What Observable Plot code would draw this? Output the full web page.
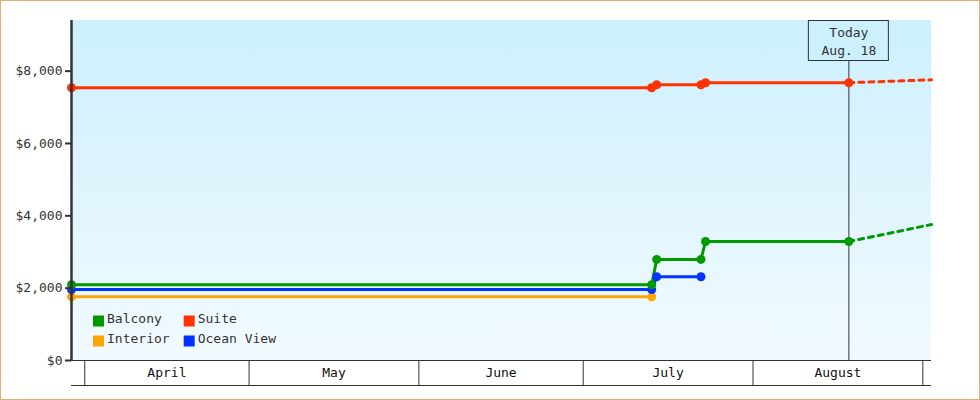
<!DOCTYPE html>
<html>
<head>
<meta charset="utf-8">
<script src="https://cdn.jsdelivr.net/npm/d3@7"></script>
<script src="https://cdn.jsdelivr.net/npm/@observablehq/plot@0.6"></script>
<style>
  html, body { margin: 0; padding: 0; background: #fff; }
  #chart svg { display: block; outline: 1px solid #e9ab6a; outline-offset: -1px; }
</style>
</head>
<body>
<div id="chart"></div>
<script>
// ---- data ----
const xStart = "2013-03-29T14:00:00Z";
const xEnd = "2013-09-02T14:00:00Z";
const today = "2013-08-18T12:00:00Z";
const todayLabel = "Today\nAug. 18";

const seriesNames = ["Balcony", "Suite", "Interior", "Ocean View"];
const seriesColors = ["#009900", "#ff3300", "#ffa500", "#0033ff"];

const suiteDates = [xStart, "2013-07-13T12:00:00Z", "2013-07-14T10:00:00Z", "2013-07-22T12:00:00Z", "2013-07-23T08:00:00Z", today];
const suitePrices = [7540, 7540, 7625, 7625, 7680, 7680];

const balconyDates = [xStart, "2013-07-13T12:00:00Z", "2013-07-14T10:00:00Z", "2013-07-22T12:00:00Z", "2013-07-23T08:00:00Z", today];
const balconyPrices = [2095, 2095, 2795, 2795, 3290, 3290];

const oceanViewDates = [xStart, "2013-07-13T12:00:00Z", "2013-07-14T10:00:00Z", "2013-07-22T12:00:00Z"];
const oceanViewPrices = [1960, 1960, 2315, 2315];

const interiorDates = [xStart, "2013-07-13T12:00:00Z"];
const interiorPrices = [1760, 1760];

const suiteForecastDates = [today, xEnd];
const suiteForecastPrices = [7680, 7760];
const balconyForecastDates = [today, xEnd];
const balconyForecastPrices = [3290, 3760];

const monthStarts = ["2013-04-01", "2013-05-01", "2013-06-01", "2013-07-01", "2013-08-01", "2013-09-01"];
const monthLabels = ["April", "May", "June", "July", "August"];
const yTicks = [0, 2000, 4000, 6000, 8000];
const yMax = 9400;

// ---- build tables ----
const toRows = (name, dates, prices) => dates.map((d, i) => ({name, date: new Date(d), price: prices[i]}));
const actual = [
  ...toRows("Interior", interiorDates, interiorPrices),
  ...toRows("Ocean View", oceanViewDates, oceanViewPrices),
  ...toRows("Balcony", balconyDates, balconyPrices),
  ...toRows("Suite", suiteDates, suitePrices)
];
const forecast = [
  ...toRows("Balcony", balconyForecastDates, balconyForecastPrices),
  ...toRows("Suite", suiteForecastDates, suiteForecastPrices)
];
const colorOf = Object.fromEntries(seriesNames.map((n, i) => [n, seriesColors[i]]));
const monthStartDates = monthStarts.map(d => new Date(d + "T00:00:00Z"));
const monthMids = monthLabels.map((m, i) => new Date((+monthStartDates[i] + +monthStartDates[i + 1]) / 2));
const todayDate = new Date(today);

const NS = "http://www.w3.org/2000/svg";
const background = (index, scales, values, dims) => {
  const g = document.createElementNS(NS, "g");
  const x = dims.marginLeft, y = dims.marginTop;
  const w = dims.width - dims.marginLeft - dims.marginRight;
  const h = dims.height - dims.marginTop - dims.marginBottom;
  g.innerHTML = `<defs><linearGradient id="bggrad" x1="0" y1="0" x2="0" y2="1">
    <stop offset="0" stop-color="#ccf0fd"/><stop offset="1" stop-color="#f2faff"/></linearGradient></defs>
    <rect x="${x}" y="${y}" width="${w}" height="${h}" fill="url(#bggrad)"/>`;
  return g;
};
const todayBox = (index, scales, values, dims) => {
  const r = document.createElementNS(NS, "rect");
  const cx = scales.x(todayDate);
  r.setAttribute("x", cx - 40);
  r.setAttribute("y", dims.marginTop + 0.5);
  r.setAttribute("width", 80);
  r.setAttribute("height", 40);
  r.setAttribute("fill", "#ccf0fd");
  r.setAttribute("stroke", "#333");
  return r;
};

const legendMarks = seriesNames.flatMap((name, i) => {
  const col = i % 2, row = Math.floor(i / 2);
  const dx = 27 + col * 90.7, dy = -39.5 + row * 20;
  return [
    Plot.dot([name], {frameAnchor: "bottom-left", dx, dy, symbol: "square", r: 6.2, fill: seriesColors[i], stroke: null}),
    Plot.text([name], {frameAnchor: "bottom-left", dx: dx + 8.5, dy: dy + 2, text: d => d, textAnchor: "start", fill: "#333", fontSize: 13})
  ];
});

const chart = Plot.plot({
  width: 980,
  height: 400,
  marginLeft: 71,
  marginRight: 49,
  marginTop: 20,
  marginBottom: 40,
  style: {fontFamily: "'DejaVu Sans Mono', monospace", fontSize: "13px", background: "transparent", color: "#333"},
  x: {type: "utc", domain: [new Date(xStart), new Date(xEnd)]},
  y: {domain: [0, yMax]},
  marks: [
    background,
    Plot.ruleX([todayDate], {stroke: "#333", strokeWidth: 1}),
    todayBox,
    Plot.text([todayDate], {x: d => d, frameAnchor: "top", dy: 4, lineAnchor: "top", lineHeight: 1.35, text: () => todayLabel, fill: "#333", fontSize: 13}),
    Plot.line(forecast, {x: "date", y: "price", z: "name", stroke: d => colorOf[d.name], strokeWidth: 3, strokeDasharray: "5,5"}),
    Plot.line(actual, {x: "date", y: "price", z: "name", stroke: d => colorOf[d.name], strokeWidth: 3}),
    Plot.dot(actual, {x: "date", y: "price", r: 4.5, fill: d => colorOf[d.name], stroke: null}),
    ...legendMarks,
    Plot.ruleY([0], {stroke: "#333", strokeWidth: 1}),
    Plot.ruleY([0], {stroke: "#333", strokeWidth: 1, dy: 25}),
    Plot.axisX(monthStartDates, {tickSize: 25, tickFormat: () => "", stroke: "#333", strokeWidth: 1, label: null}),
    Plot.axisX(monthMids, {tickSize: 0, tickPadding: 7, tickFormat: (d, i) => monthLabels[i], fill: "#111", fontSize: 13, label: null}),
    Plot.ruleX([new Date(xStart)], {stroke: "#333", strokeWidth: 2.5}),
    Plot.axisY(yTicks, {tickSize: 6, tickPadding: 3, tickFormat: d => "$" + d3.format(",")(d), stroke: "#333", strokeWidth: 2, fill: "#333", fontSize: 13, label: null})
  ]
});
document.getElementById("chart").appendChild(chart);
</script>
</body>
</html>
